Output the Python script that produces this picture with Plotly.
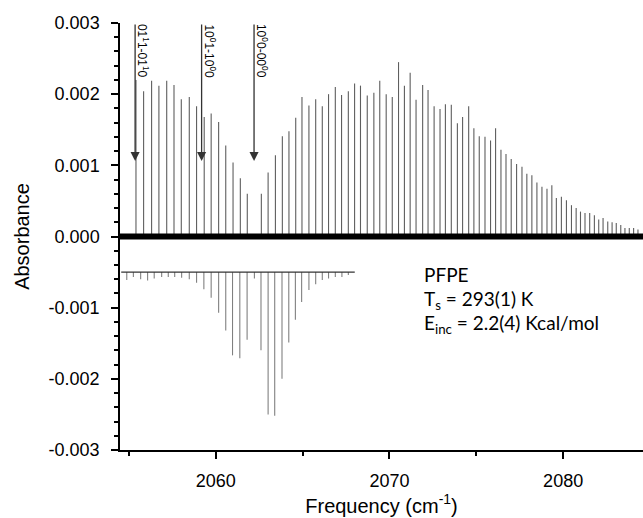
import plotly.graph_objects as go

# ---- data ----
pos_freq = [2055.40, 2055.84, 2056.30, 2056.72, 2057.17, 2057.59, 2058.01, 2058.47, 2058.89, 2059.33,
            2059.73, 2060.16, 2060.57, 2060.99, 2061.41, 2061.81, 2062.62, 2063.01, 2063.43, 2063.83,
            2064.21, 2064.60, 2064.96, 2065.36, 2065.75, 2066.13, 2066.49, 2066.88, 2067.24, 2067.63,
            2067.99, 2068.33, 2068.72, 2069.10, 2069.44, 2069.81, 2070.16, 2070.52, 2070.86, 2071.19,
            2071.53, 2071.91, 2072.22, 2072.57, 2072.91, 2073.22, 2073.56, 2073.91, 2074.21, 2074.56,
            2074.86, 2075.17, 2075.50, 2075.82, 2076.11, 2076.42, 2076.71, 2077.01, 2077.32, 2077.63,
            2077.91, 2078.20, 2078.49, 2078.78, 2079.07, 2079.35, 2079.61, 2079.90, 2080.19, 2080.48,
            2080.75, 2081.00, 2081.26, 2081.53, 2081.80, 2082.05, 2082.30, 2082.57, 2082.82, 2083.06,
            2083.32, 2083.56, 2083.81, 2084.06, 2084.31]
pos_abs = [0.00220, 0.00204, 0.00219, 0.00212, 0.00219, 0.00213, 0.00193, 0.00196, 0.00183, 0.00168,
           0.00173, 0.00161, 0.00128, 0.00104, 0.00082, 0.00060, 0.00060, 0.00090, 0.00114, 0.00141,
           0.00148, 0.00167, 0.00196, 0.00184, 0.00193, 0.00183, 0.00200, 0.00210, 0.00199, 0.00204,
           0.00215, 0.00212, 0.00198, 0.00202, 0.00219, 0.00200, 0.00196, 0.00245, 0.00212, 0.00230,
           0.00192, 0.00213, 0.00206, 0.00183, 0.00179, 0.00186, 0.00185, 0.00159, 0.00168, 0.00183,
           0.00152, 0.00141, 0.00140, 0.00135, 0.00152, 0.00122, 0.00116, 0.00109, 0.00102, 0.00098,
           0.00088, 0.00086, 0.00076, 0.00070, 0.00067, 0.00072, 0.00054, 0.00056, 0.00051, 0.00044,
           0.00040, 0.00035, 0.00033, 0.00033, 0.00030, 0.00024, 0.00026, 0.00021, 0.00020, 0.00019,
           0.00016, 0.00012, 0.00012, 0.00012, 0.00010]

neg_freq = [2054.87, 2055.25, 2055.67, 2056.07, 2056.45, 2056.88, 2057.26, 2057.63, 2058.03, 2058.47,
            2058.89, 2059.31, 2059.73, 2060.16, 2060.57, 2060.96, 2061.38, 2061.80, 2062.22, 2062.60,
            2063.01, 2063.39, 2063.81, 2064.20, 2064.58, 2064.94, 2065.36, 2065.75, 2066.13, 2066.49,
            2066.88, 2067.26, 2067.63]
neg_abs = [-0.00061, -0.00057, -0.00060, -0.00062, -0.00059, -0.00057, -0.00057, -0.00057, -0.00058, -0.00060,
           -0.00065, -0.00074, -0.00086, -0.00107, -0.00132, -0.00167, -0.00171, -0.00145, -0.00059, -0.00160,
           -0.00250, -0.00252, -0.00200, -0.00149, -0.00117, -0.00092, -0.00075, -0.00067, -0.00061, -0.00059,
           -0.00057, -0.00057, -0.00054]
neg_baseline = -0.0005
neg_span = [2054.55, 2068.0]
noise_span = [2054.48, 2084.6]

band_freq = [2055.35, 2059.18, 2062.2]
band_labels = ["01<sup>1</sup>1-01<sup>1</sup>0", "10<sup>0</sup>1-10<sup>0</sup>0", "10<sup>0</sup>0-00<sup>0</sup>0"]
arrow_top = 0.003
arrow_tip = 0.00106

y_ticks = [-0.003, -0.002, -0.001, 0.0, 0.001, 0.002, 0.003]
y_ticktext = ["-0.003", "-0.002", "-0.001", "0.000", "0.001", "0.002", "0.003"]
x_ticks = [2060, 2070, 2080]

info_lines = ["PFPE", "T<sub>s</sub> = 293(1) K", "E<sub>inc</sub> = 2.2(4) Kcal/mol"]
info_y = [-0.00054, -0.00089, -0.00123]
info_x = 2071.9

# ---- build stick traces ----
def sticks(freqs, vals, base):
    xs, ys = [], []
    for f, v in zip(freqs, vals):
        xs += [f, f, None]
        ys += [base, v, None]
    return xs, ys

px_, py_ = sticks(pos_freq, pos_abs, 0.0)
nx_, ny_ = sticks(neg_freq, neg_abs, neg_baseline)

fig = go.Figure()
fig.add_trace(go.Scatter(x=px_, y=py_, mode="lines", line=dict(color="#5e5e5e", width=1.1),
                         hoverinfo="skip", showlegend=False))
fig.add_trace(go.Scatter(x=noise_span, y=[0, 0], mode="lines", line=dict(color="black", width=6),
                         hoverinfo="skip", showlegend=False))
fig.add_trace(go.Scatter(x=nx_, y=ny_, mode="lines", line=dict(color="#808080", width=1.1),
                         hoverinfo="skip", showlegend=False))
fig.add_trace(go.Scatter(x=neg_span, y=[neg_baseline, neg_baseline], mode="lines",
                         line=dict(color="#333333", width=1.2), hoverinfo="skip", showlegend=False))

for f, lab in zip(band_freq, band_labels):
    fig.add_annotation(x=f, y=arrow_tip, ax=f, ay=arrow_top, xref="x", yref="y", axref="x", ayref="y",
                       text="", showarrow=True, arrowhead=2, arrowsize=1.4, arrowwidth=1.3,
                       arrowcolor="#333333", standoff=0)
    fig.add_annotation(x=f, y=arrow_top, xref="x", yref="y", text=lab, showarrow=False,
                       textangle=90, xanchor="center", yanchor="top", xshift=8, yshift=1,
                       font=dict(family="Arial, Liberation Sans", size=12, color="black"))

for t, yy in zip(info_lines, info_y):
    fig.add_annotation(x=info_x, y=yy, xref="x", yref="y", text=t, showarrow=False,
                       xanchor="left", yanchor="middle",
                       font=dict(family="Lato, Noto Sans", size=19, color="black"))

axis_font = dict(family="Arial, Liberation Sans", size=18, color="black")
title_font = dict(family="Arial, Liberation Sans", size=20, color="black")
fig.update_layout(
    width=643, height=518,
    margin=dict(l=120, r=0, t=23, b=68),
    plot_bgcolor="white", paper_bgcolor="white",
    showlegend=False,
    xaxis=dict(range=[2054.48, 2084.6], tickvals=x_ticks, ticks="outside", ticklen=7, tickwidth=1.5,
               tickcolor="black", showline=True, linecolor="black", linewidth=1.5, showgrid=False,
               zeroline=False, tickfont=axis_font, automargin=False, ticklabelstandoff=7,
               minor=dict(dtick=5, tick0=2055, ticks="outside", ticklen=4, tickwidth=1.5, tickcolor="black",
                          showgrid=False),
               title=dict(text="Frequency (cm<sup>-1</sup>)", font=title_font, standoff=6)),
    yaxis=dict(range=[-0.003, 0.003], tickvals=y_ticks, ticktext=y_ticktext, ticks="outside", ticklen=7,
               tickwidth=1.5, tickcolor="black", showline=True, linecolor="black", linewidth=1.5,
               showgrid=False, zeroline=False, tickfont=axis_font, automargin=False, ticklabelstandoff=8,
               minor=dict(dtick=0.0002, tick0=0, ticks="outside", ticklen=4, tickwidth=1.5, tickcolor="black",
                          showgrid=False),
               title=dict(text="Absorbance", font=title_font, standoff=14)),
)

# remove the default page margin so the figure fills the window exactly
fig.write_html("out.html", config={"displayModeBar": False},
               post_script="document.body.style.margin='0';document.body.style.overflow='hidden';")
